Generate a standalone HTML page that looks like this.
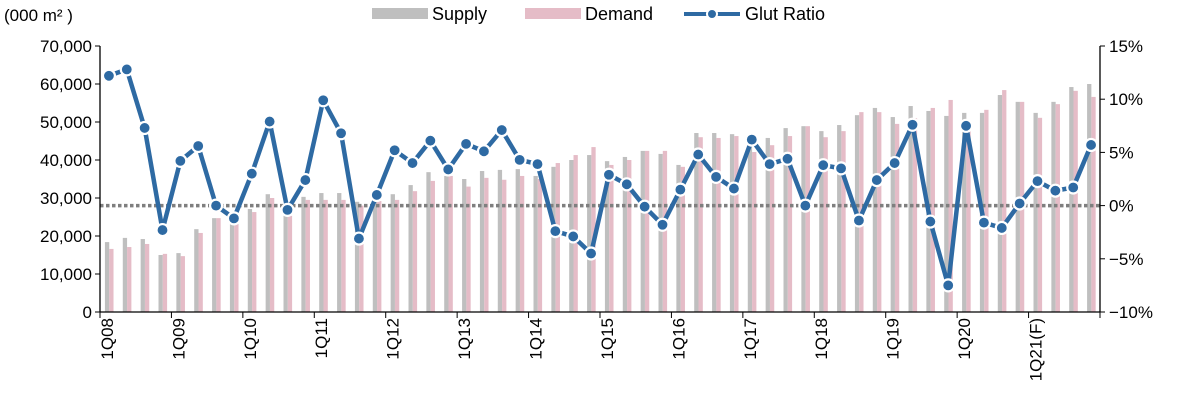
<!DOCTYPE html>
<html><head><meta charset="utf-8">
<style>
body{margin:0;background:#fff;font-family:"Liberation Sans",sans-serif;}
svg text{font-family:"Liberation Sans",sans-serif;fill:#000;}
</style></head>
<body>
<svg id="chart" width="1182" height="412" viewBox="0 0 1182 412" xmlns="http://www.w3.org/2000/svg">
<text x="4" y="21" font-size="17">(000 m²  )</text>
<g>
<rect x="372" y="8" width="56" height="11" fill="#bfbfbf"/>
<text x="432" y="20" font-size="18">Supply</text>
<rect x="525" y="8" width="56" height="11" fill="#e5bcc7"/>
<text x="585" y="20" font-size="18">Demand</text>
<line x1="684" y1="14" x2="740" y2="14" stroke="#2e6aa3" stroke-width="4"/>
<circle cx="712" cy="14" r="5" fill="#2e6aa3" stroke="#fff" stroke-width="2"/>
<text x="745" y="20" font-size="18">Glut Ratio</text>
</g>
<g id="bars"></g>
<g id="axes"></g>
<g id="line"></g>
</svg>
<script>
const categories=[];
for(let y=8;y<=21;y++){for(let q=1;q<=4;q++){categories.push(q+'Q'+String(y).padStart(2,'0'));}}
const supply=[18400,19500,19200,15000,15500,21800,24700,24200,27100,31000,25500,30300,31300,31300,29000,29200,31000,33400,36800,35800,35000,37100,37400,37600,35800,38200,40000,41300,39700,40800,42400,41600,38700,47100,47100,46800,45000,45800,48400,48900,47600,49200,51800,53700,51300,54200,52900,51600,52400,52400,57100,55300,52400,55300,59200,60000];
const demand=[16600,17100,17900,15300,14700,20800,24700,23200,26300,30000,25300,29500,29500,29500,28000,29200,29500,31800,34500,35800,33000,35300,34800,35800,35000,39200,41300,43400,38700,40000,42400,42400,38200,46000,45800,46300,42100,43900,46300,48900,46000,47600,52600,52600,49500,51000,53700,55800,50000,53200,58400,55300,51100,54700,58200,56600];
const glut=[12.2,12.8,7.3,-2.3,4.2,5.6,0,-1.2,3.0,7.9,-0.4,2.4,9.9,6.8,-3.1,1.0,5.2,4.0,6.1,3.4,5.8,5.1,7.1,4.3,3.9,-2.4,-2.9,-4.5,2.9,2.0,-0.1,-1.8,1.5,4.8,2.7,1.6,6.2,3.9,4.4,0,3.8,3.5,-1.4,2.4,4.0,7.6,-1.5,-7.5,7.5,-1.6,-2.1,0.2,2.3,1.4,1.7,5.7];
const leftTicks=[0,10000,20000,30000,40000,50000,60000,70000];
const rightTicks=[-10,-5,0,5,10,15];
const xLabels=['1Q08','1Q09','1Q10','1Q11','1Q12','1Q13','1Q14','1Q15','1Q16','1Q17','1Q18','1Q19','1Q20','1Q21(F)'];

const X0=100,X1=1100,YT=46,YB=312;
const step=(X1-X0)/categories.length;
const xs=i=>X0+step*(i+0.5);
const yL=v=>YB-(v/70000)*(YB-YT);
const yR=p=>YB-((p+10)/25)*(YB-YT);
const NS='http://www.w3.org/2000/svg';
function mk(tag,attrs,parent){const e=document.createElementNS(NS,tag);for(const k in attrs)e.setAttribute(k,attrs[k]);parent.appendChild(e);return e;}
const bars=document.getElementById('bars'),axes=document.getElementById('axes'),line=document.getElementById('line');

categories.forEach((c,i)=>{
  const cx=xs(i);
  const s=mk('rect',{x:cx-4,y:yL(supply[i]),width:4.3,height:YB-yL(supply[i]),fill:'#bfbfbf'},bars);
  
  
  const d=mk('rect',{x:cx+0.3,y:yL(demand[i]),width:4.3,height:YB-yL(demand[i]),fill:'#e5bcc7'},bars);
  
  
});

const zl=mk('line',{x1:X0,x2:X1,y1:yR(0),y2:yR(0),stroke:'#7f7f7f','stroke-width':3.5,'stroke-dasharray':'3.5 2.5'},axes);



const la=mk('line',{x1:X0,x2:X0,y1:YT,y2:YB,stroke:'#000','stroke-width':1.3},axes);


const ra=mk('line',{x1:X1,x2:X1,y1:YT,y2:YB,stroke:'#000','stroke-width':1.3},axes);


const ba=mk('line',{x1:X0,x2:X1,y1:YB,y2:YB,stroke:'#000','stroke-width':1.3},axes);



leftTicks.forEach(v=>{
  const y=yL(v);
  mk('line',{x1:X0-5,x2:X0,y1:y,y2:y,stroke:'#000'},axes);
  const t=mk('text',{x:X0-8,y:y+6,'text-anchor':'end','font-size':17},axes);
  t.textContent=v.toLocaleString('en-US');
  
  
});
rightTicks.forEach(p=>{
  const y=yR(p);
  mk('line',{x1:X1,x2:X1+5,y1:y,y2:y,stroke:'#000'},axes);
  const t=mk('text',{x:X1+9,y:y+6,'font-size':17},axes);
  t.textContent=(p<0?'\u2212'+Math.abs(p):p)+'%';
  
  
});
xLabels.forEach((l,k)=>{
  const xb=X0+step*4*k;
  mk('line',{x1:xb,x2:xb,y1:YB,y2:YB+6,stroke:'#000'},axes);
  const cx=xs(4*k)-2;
  const t=mk('text',{x:0,y:0,'text-anchor':'end','font-size':17,transform:'translate('+(cx+6)+','+(YB+6)+') rotate(-90)'},axes);
  t.textContent=l;
  
  
});
mk('line',{x1:X1,x2:X1,y1:YB,y2:YB+6,stroke:'#000'},axes);

const pts=glut.map((g,i)=>xs(i)+','+yR(g)).join(' ');
const pl=mk('polyline',{points:pts,fill:'none',stroke:'#2e6aa3','stroke-width':4.5,'stroke-linejoin':'round'},line);


glut.forEach((g,i)=>{
  const c=mk('circle',{cx:xs(i),cy:yR(g),r:6,fill:'#2e6aa3',stroke:'#fff','stroke-width':2.2},line);
  
  
});
</script>
</body></html>
